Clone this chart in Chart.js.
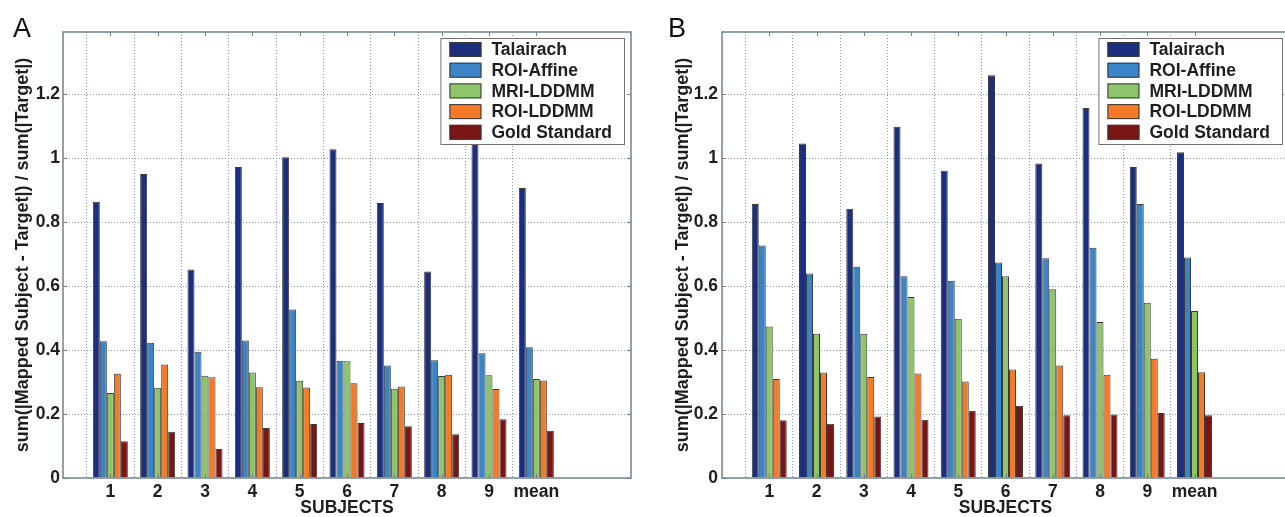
<!DOCTYPE html>
<html><head><meta charset="utf-8">
<script src="https://cdn.jsdelivr.net/npm/chart.js@4.4.0/dist/chart.umd.min.js"></script>
<style>
html,body{margin:0;padding:0;background:#fff;overflow:hidden;width:1285px;height:517px;}
#wrapA{position:absolute;left:0;top:0;width:640px;height:517px;}
#wrapB{position:absolute;left:640px;top:0;width:660px;height:517px;}
.letter{position:absolute;font-family:'Liberation Sans',Arial,sans-serif;font-size:27px;line-height:27px;color:#111;}
</style></head><body>
<div id="wrapA"><canvas id="chartA" width="640" height="517"></canvas></div>
<div id="wrapB"><canvas id="chartB" width="660" height="517"></canvas></div>
<div class="letter" style="left:13px;top:15px">A</div>
<div class="letter" style="left:668px;top:15px">B</div>
<script>
const subjects = ['1','2','3','4','5','6','7','8','9','mean'];
const seriesNames = ['Talairach','ROI-Affine','MRI-LDDMM','ROI-LDDMM','Gold Standard'];
const yTicks = [0, 0.2, 0.4, 0.6, 0.8, 1, 1.2];
const yTickLabels = ['0', '0.2', '0.4', '0.6', '0.8', '1', '1.2'];

// Panel A
const aTalairach = [0.864, 0.951, 0.652, 0.973, 1.003, 1.028, 0.860, 0.646, 1.19, 0.907];
const aRoiAffine = [0.428, 0.423, 0.395, 0.430, 0.527, 0.367, 0.352, 0.368, 0.390, 0.409];
const aMriLddmm  = [0.266, 0.282, 0.320, 0.330, 0.304, 0.365, 0.279, 0.319, 0.321, 0.310];
const aRoiLddmm  = [0.326, 0.355, 0.315, 0.284, 0.283, 0.296, 0.286, 0.323, 0.278, 0.305];
const aGold      = [0.115, 0.145, 0.091, 0.156, 0.169, 0.172, 0.162, 0.137, 0.184, 0.148];

// Panel B
const bTalairach = [0.857, 1.046, 0.842, 1.099, 0.961, 1.260, 0.984, 1.157, 0.973, 1.019];
const bRoiAffine = [0.727, 0.640, 0.661, 0.631, 0.617, 0.674, 0.687, 0.720, 0.857, 0.690];
const bMriLddmm  = [0.474, 0.451, 0.451, 0.566, 0.498, 0.631, 0.590, 0.488, 0.548, 0.522];
const bRoiLddmm  = [0.310, 0.330, 0.316, 0.327, 0.302, 0.339, 0.352, 0.323, 0.373, 0.331];
const bGold      = [0.181, 0.170, 0.192, 0.182, 0.210, 0.226, 0.196, 0.199, 0.203, 0.196];

const colors = ['#1c2e7e', '#3b84c8', '#8fc56a', '#f57a26', '#7a1515'];
const barBorder = '#3a3a3a';
const gridColor = 'rgba(115,135,155,0.85)';
const frameColor = '#6e8190';
const textColor = '#1e1e1e';
const family = "'Liberation Sans', Arial, Helvetica, sans-serif";

const legendBoxPlugin = {
  id: 'legendBox',
  afterDatasetsDraw(chart) {
    const {ctx, chartArea} = chart;
    ctx.save();
    ctx.font = `bold 17.5px ${family}`;
    const items = chart.data.datasets.map(d => ({text: d.label, color: d.backgroundColor}));
    const maxW = Math.max(...items.map(it => ctx.measureText(it.text).width));
    const w = 51 + maxW + 13, rowH = 20.7, h = 107;
    const right = chartArea.right - 6, top = chartArea.top + 6, left = right - w;
    ctx.fillStyle = '#fff';
    ctx.fillRect(left, top, w, h);
    ctx.strokeStyle = '#707070';
    ctx.lineWidth = 1;
    ctx.strokeRect(left + 0.5, top + 0.5, w - 1, h - 1);
    items.forEach((it, i) => {
      const cy = top + 11.5 + i * rowH;
      ctx.fillStyle = it.color;
      ctx.fillRect(left + 9, cy - 7.5, 32, 15);
      ctx.strokeStyle = barBorder;
      ctx.strokeRect(left + 9.5, cy - 7, 31, 14);
      ctx.fillStyle = textColor;
      ctx.textBaseline = 'middle';
      ctx.textAlign = 'left';
      ctx.fillText(it.text, left + 51, cy + 1);
    });
    ctx.restore();
  }
};

const framePlugin = {
  id: 'frame',
  afterDraw(chart) {
    const {ctx, chartArea: {left, top, right, bottom}} = chart;
    const xs = chart.scales.x, ys = chart.scales.y;
    ctx.save();
    ctx.strokeStyle = frameColor;
    ctx.lineWidth = 1.5;
    ctx.strokeRect(left, top, right - left, bottom - top);
    ctx.lineWidth = 1;
    ctx.beginPath();
    for (let i = 1; i <= subjects.length; i++) {
      const px = Math.round(xs.getPixelForTick(i)) + 0.5;
      ctx.moveTo(px, bottom); ctx.lineTo(px, bottom - 4);
      ctx.moveTo(px, top); ctx.lineTo(px, top + 4);
    }
    ys.ticks.forEach((t, i) => {
      const py = Math.round(ys.getPixelForTick(i)) + 0.5;
      ctx.moveTo(left, py); ctx.lineTo(left + 4, py);
      ctx.moveTo(right, py); ctx.lineTo(right - 4, py);
    });
    ctx.stroke();
    ctx.restore();
  }
};

function makeChart(id, series, geom) {
  const xLabels = ['', ...subjects, '', ''];
  const pad = v => [null, ...v, null, null];
  return new Chart(document.getElementById(id), {
    type: 'bar',
    data: {
      labels: xLabels,
      datasets: seriesNames.map((name, i) => ({
        label: name,
        data: pad(series[i]),
        backgroundColor: colors[i],
        borderColor: barBorder,
        borderWidth: 1,
        categoryPercentage: 0.74,
        barPercentage: 1.0
      }))
    },
    options: {
      responsive: false,
      animation: false,
      events: [],
      layout: {padding: {left: 0, top: 32, right: geom.right, bottom: 0}},
      plugins: {legend: {display: false}, tooltip: {enabled: false}},
      scales: {
        x: {
          offset: false,
          grid: {
            color: c => (c.index >= 1 && c.index <= subjects.length) ? gridColor : 'rgba(0,0,0,0)',
            lineWidth: 1,
            drawTicks: false
          },
          border: {display: false, dash: [1, 2]},
          ticks: {autoSkip: false, maxRotation: 0, padding: 4, color: textColor,
                  font: {family, size: 17.5, weight: 'bold'}},
          title: {display: true, text: 'SUBJECTS', color: textColor,
                  font: {family, size: 17.5, weight: 'bold', lineHeight: 1},
                  padding: {top: 0, bottom: 0}},
          afterFit: s => { s.height = 39; }
        },
        y: {
          min: 0,
          max: 1.395,
          afterBuildTicks: a => { a.ticks = yTicks.map(v => ({value: v})); },
          grid: {
            color: c => (c.tick && c.tick.value > 0) ? gridColor : 'rgba(0,0,0,0)',
            lineWidth: 1,
            drawTicks: false
          },
          border: {display: false, dash: [1, 2]},
          ticks: {padding: geom.tickPad, color: textColor,
                  callback: (v, i) => yTickLabels[i],
                  font: {family, size: 17.5, weight: 'bold'}},
          title: {display: true, text: 'sum(|Mapped Subject - Target|) / sum(|Target|)',
                  color: textColor, font: {family, size: 18, weight: 'bold'},
                  padding: {top: geom.titlePad, bottom: 0}},
          afterFit: s => { s.width = geom.yWidth; }
        }
      }
    },
    plugins: [legendBoxPlugin, framePlugin]
  });
}

makeChart('chartA', [aTalairach, aRoiAffine, aMriLddmm, aRoiLddmm, aGold],
          {right: 9, yWidth: 63, tickPad: 3, titlePad: 12});
makeChart('chartB', [bTalairach, bRoiAffine, bMriLddmm, bRoiLddmm, bGold],
          {right: 11, yWidth: 82, tickPad: 4, titlePad: 32});
</script>
</body></html>
